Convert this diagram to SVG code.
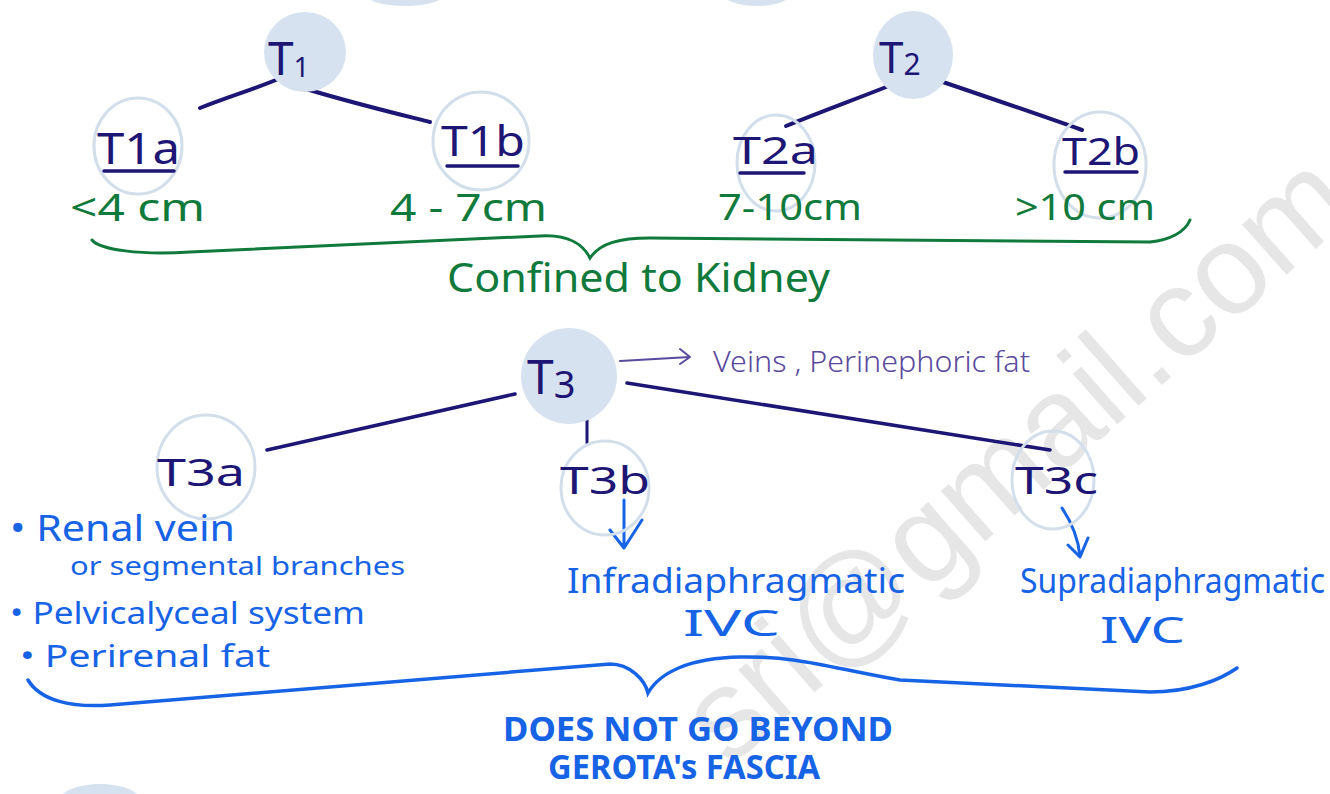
<svg xmlns="http://www.w3.org/2000/svg" width="1330" height="794" viewBox="0 0 1330 794">
<style>
.bg{fill:#ffffff}
.fill{fill:#d6e2f0}
.ring{fill:none;stroke:#d3deeb;stroke-width:3}
.navy{fill:#1d1675;font-family:"Noto Sans","DejaVu Sans",sans-serif}
.green{fill:#0f7a3b;font-family:"Noto Sans","DejaVu Sans",sans-serif}
.blue{fill:#1763e6;font-family:"Noto Sans","DejaVu Sans",sans-serif}
.purple{fill:#5a4a9c;font-family:"Noto Sans","DejaVu Sans",sans-serif;font-weight:300}
.edge{fill:none;stroke:#1d1675;stroke-width:4;stroke-linecap:round}
.ul{stroke:#1d1675;stroke-width:3.5;stroke-linecap:round}
.gbrace{fill:none;stroke:#0f7a3b;stroke-width:3;stroke-linecap:round}
.bbrace{fill:none;stroke:#1763e6;stroke-width:3.5;stroke-linecap:round}
.barrow{fill:none;stroke:#1763e6;stroke-width:3;stroke-linecap:round;stroke-linejoin:round}
.parrow{fill:none;stroke:#5a4a9c;stroke-width:2;stroke-linecap:round;stroke-linejoin:round}
.wm{fill:#e6e6e6;font-family:"Liberation Sans",Arial,sans-serif;font-size:127px}
</style>
<rect class="bg" x="0" y="0" width="1330" height="794"/>
<!-- faint page remnants -->
<ellipse class="fill" cx="405" cy="-8" rx="42" ry="14"/>
<ellipse class="fill" cx="757" cy="-8" rx="35" ry="14"/>
<ellipse class="fill" cx="100" cy="800" rx="40" ry="16"/>
<!-- watermark -->
<text class="wm" transform="translate(729,768) rotate(-41.5)">sri@gmail.com</text>

<g id="connectors">
<path class="edge" d="M200,108 C230,96 258,88 283,77"/>
<path class="edge" d="M290,84 C340,100 390,112 430,122"/>
<path class="edge" d="M786,126 C830,108 870,94 906,79"/>
<path class="edge" d="M937,80 C990,98 1040,115 1082,130"/>
<path class="edge" style="stroke-width:3.5" d="M267,450 L515,394"/>
<path class="edge" style="stroke-width:3.5" d="M627,383 L1050,450"/>
<path class="edge" style="stroke-width:3" d="M587,410 L587,443"/>
<path class="parrow" d="M620,361 L690,357 M680,349 L690,357 L680,364"/>
<path class="barrow" d="M624,500 L624,547 M610,530 L624,548 L642,520"/>
<path class="barrow" d="M1062,508 C1070,520 1078,537 1080,556 M1068,545 L1080,557 L1088,538"/>
<path class="gbrace" d="M92,240 C100,250 140,255 190,252 L540,236 C570,234 584,246 590,258 C600,243 620,238 650,238 L1150,242 C1170,240 1185,232 1190,220"/>
<path class="bbrace" d="M28,680 C40,700 70,708 110,705 L610,664 C630,664 645,680 648,693 C660,672 690,658 740,657 C800,656 830,668 900,680 L1150,692 C1190,692 1220,680 1237,668"/>
</g>

<g id="T1">
<ellipse class="fill" cx="305" cy="52" rx="41" ry="40"/>
<text class="navy" x="268" y="75" font-size="46"><tspan>T</tspan><tspan font-size="28" dy="2">1</tspan></text>
</g>
<g id="T1a">
<ellipse class="ring" cx="138" cy="146" rx="44" ry="48"/>
<text class="navy" x="97" y="164" font-size="44" textLength="83" lengthAdjust="spacingAndGlyphs">T1a</text>
<line class="ul" x1="104" y1="171" x2="174" y2="171"/>
</g>
<g id="T1b">
<ellipse class="ring" cx="481" cy="141" rx="48" ry="49"/>
<text class="navy" x="441" y="156" font-size="42" textLength="84" lengthAdjust="spacingAndGlyphs">T1b</text>
<line class="ul" x1="447" y1="166" x2="518" y2="166"/>
</g>
<g id="T2">
<ellipse class="fill" cx="913" cy="55" rx="40" ry="44"/>
<text class="navy" x="879" y="73" font-size="44"><tspan>T</tspan><tspan font-size="30" dy="2">2</tspan></text>
</g>
<g id="T2a">
<ellipse class="ring" cx="776" cy="163" rx="39" ry="48"/>
<text class="navy" x="733" y="164" font-size="38" textLength="85" lengthAdjust="spacingAndGlyphs">T2a</text>
<line class="ul" x1="740" y1="173" x2="804" y2="173"/>
</g>
<g id="T2b">
<ellipse class="ring" cx="1100" cy="165" rx="46" ry="53"/>
<text class="navy" x="1062" y="165" font-size="38" textLength="78" lengthAdjust="spacingAndGlyphs">T2b</text>
<line class="ul" x1="1065" y1="172" x2="1137" y2="172"/>
</g>

<g id="sizes">
<text class="green" x="70" y="221" font-size="38" textLength="135" lengthAdjust="spacingAndGlyphs">&lt;4 cm</text>
<text class="green" x="390" y="221" font-size="38" textLength="157" lengthAdjust="spacingAndGlyphs">4 - 7cm</text>
<text class="green" x="718" y="220" font-size="36" textLength="144" lengthAdjust="spacingAndGlyphs">7-10cm</text>
<text class="green" x="1015" y="220" font-size="36" textLength="140" lengthAdjust="spacingAndGlyphs">&gt;10 cm</text>
<text class="green" x="447" y="292" font-size="40" textLength="383" lengthAdjust="spacingAndGlyphs">Confined to Kidney</text>
</g>

<g id="T3">
<ellipse class="fill" cx="569" cy="376" rx="48" ry="48"/>
<text class="navy" x="527" y="394" font-size="48"><tspan>T</tspan><tspan font-size="38" dy="4">3</tspan></text>
</g>
<g id="veins">
<text class="purple" x="713" y="372" font-size="30" textLength="317" lengthAdjust="spacingAndGlyphs">Veins , Perinephoric fat</text>
</g>
<g id="T3a">
<ellipse class="ring" cx="206" cy="467" rx="49" ry="52"/>
<text class="navy" x="157" y="486" font-size="38" textLength="88" lengthAdjust="spacingAndGlyphs">T3a</text>
</g>
<g id="T3b">
<ellipse class="ring" cx="605" cy="488" rx="44" ry="47"/>
<text class="navy" x="560" y="494" font-size="38" textLength="90" lengthAdjust="spacingAndGlyphs">T3b</text>
</g>
<g id="T3c">
<ellipse class="ring" cx="1053" cy="480" rx="41" ry="49"/>
<text class="navy" x="1015" y="494" font-size="38" textLength="83" lengthAdjust="spacingAndGlyphs">T3c</text>
</g>

<g id="T3a-notes">
<text class="blue" x="10" y="541" font-size="36" textLength="225" lengthAdjust="spacingAndGlyphs">• Renal vein</text>
<text class="blue" x="70" y="575" font-size="26" textLength="335" lengthAdjust="spacingAndGlyphs">or segmental branches</text>
<text class="blue" x="10" y="624" font-size="30" textLength="355" lengthAdjust="spacingAndGlyphs">• Pelvicalyceal system</text>
<text class="blue" x="20" y="667" font-size="30" textLength="250" lengthAdjust="spacingAndGlyphs">•  Perirenal fat</text>
</g>
<g id="T3b-notes">
<text class="blue" x="567" y="593" font-size="34" textLength="338" lengthAdjust="spacingAndGlyphs">Infradiaphragmatic</text>
<text class="blue" x="683" y="636" font-size="36" textLength="97" lengthAdjust="spacingAndGlyphs">IVC</text>
</g>
<g id="T3c-notes">
<text class="blue" x="1020" y="593" font-size="34" textLength="305" lengthAdjust="spacingAndGlyphs">Supradiaphragmatic</text>
<text class="blue" x="1100" y="643" font-size="36" textLength="85" lengthAdjust="spacingAndGlyphs">IVC</text>
</g>
<g id="gerota">
<text class="blue" x="503" y="741" font-size="34" font-weight="bold" textLength="390" lengthAdjust="spacingAndGlyphs">DOES NOT GO BEYOND</text>
<text class="blue" x="548" y="779" font-size="34" font-weight="bold" textLength="272" lengthAdjust="spacingAndGlyphs">GEROTA's FASCIA</text>
</g>
</svg>
